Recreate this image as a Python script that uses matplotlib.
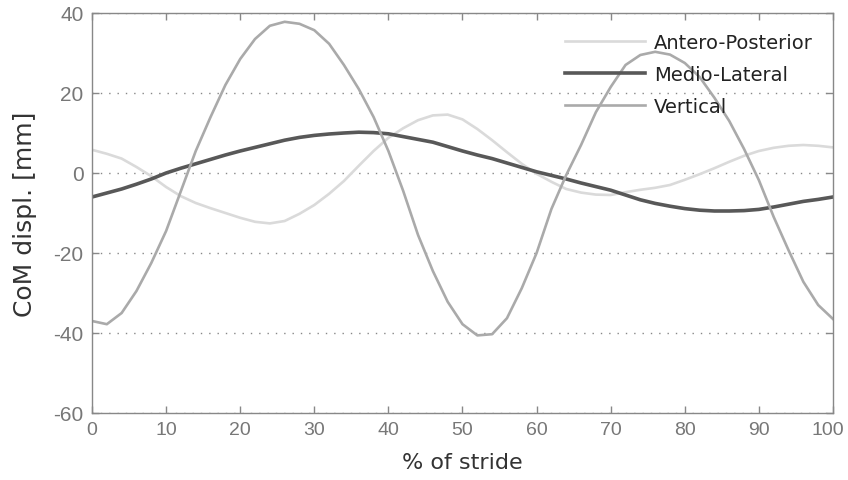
"""CoM displacement over one stride - three components."""

import matplotlib
matplotlib.use("Agg")
import matplotlib.pyplot as plt
from matplotlib.transforms import ScaledTranslation

plt.rcParams["axes.unicode_minus"] = False

# % of stride (sampled every 2 %)
stride = list(range(0, 101, 2))

antero_posterior = [
    5.8, 4.8, 3.6, 1.5, -0.8, -3.5, -5.8, -7.5, -8.8, -10.0,
    -11.2, -12.2, -12.6, -12.0, -10.2, -8.0, -5.2, -2.0, 1.8, 5.5,
    8.8, 11.2, 13.2, 14.4, 14.6, 13.4, 11.0, 8.2, 5.2, 2.3,
    -0.2, -2.2, -4.0, -4.9, -5.4, -5.5, -4.8, -4.2, -3.7, -3.0,
    -1.7, -0.3, 1.2, 2.8, 4.3, 5.5, 6.3, 6.8, 7.0, 6.8,
    6.4,
]

medio_lateral = [
    -6.0, -5.0, -4.0, -2.8, -1.5, 0.0, 1.2, 2.3, 3.4, 4.5,
    5.5, 6.4, 7.3, 8.2, 8.9, 9.4, 9.75, 10.0, 10.2, 10.1,
    9.8, 9.1, 8.4, 7.7, 6.6, 5.5, 4.5, 3.6, 2.5, 1.4,
    0.3, -0.6, -1.5, -2.5, -3.4, -4.3, -5.5, -6.7, -7.6, -8.3,
    -8.9, -9.3, -9.5, -9.5, -9.4, -9.1, -8.5, -7.8, -7.1, -6.6,
    -6.0,
]

vertical = [
    -37.0, -37.8, -35.0, -29.5, -22.5, -14.5, -4.5, 5.5, 14.0, 22.0,
    28.5, 33.5, 36.8, 37.8, 37.3, 35.7, 32.3, 27.0, 21.0, 14.0,
    5.5, -4.5, -15.5, -24.5, -32.2, -37.8, -40.6, -40.3, -36.3, -28.8,
    -20.0, -9.0, -0.5, 7.0, 15.2, 21.5, 27.0, 29.5, 30.3, 29.6,
    27.5, 24.0, 18.8, 13.0, 6.0, -1.8, -11.0, -19.3, -27.2, -33.0,
    -36.5,
]

x_ticks = list(range(0, 101, 10))
y_ticks = list(range(-60, 41, 20))

fig = plt.figure(figsize=(8.48, 4.81), dpi=100)
ax = fig.add_axes([0.1085, 0.1393, 0.8738, 0.8316])

ax.plot(stride, antero_posterior, color="#dadada", lw=1.9, label="Antero-Posterior")
ax.plot(stride, medio_lateral, color="#585858", lw=2.6, label="Medio-Lateral")
ax.plot(stride, vertical, color="#aaaaaa", lw=1.9, label="Vertical")

ax.set_xlim(0, 100)
ax.set_ylim(-60, 40)
ax.set_xticks(x_ticks)
ax.set_yticks(y_ticks)

# matlab-like dotted horizontal grid only
ax.yaxis.grid(True, color="#888888", linestyle=(0, (1, 5)), lw=1.0)
ax.xaxis.grid(False)

for s in ax.spines.values():
    s.set_color("#888888")
    s.set_linewidth(1.0)

ax.tick_params(direction="in", length=5, width=1, colors="#888888",
               top=True, right=True, labelsize=15, labelcolor="#777777", pad=6)
ax.tick_params(axis="x", labelsize=14)
for lbl in ax.get_xticklabels() + ax.get_yticklabels():
    lbl.set_family(["Liberation Sans", "DejaVu Sans"])

# keep the last x label inside the figure edge
last = ax.get_xticklabels()[-1]
last.set_transform(last.get_transform() + ScaledTranslation(-4 / 72, 0, fig.dpi_scale_trans))

ax.set_xlabel("% of stride", fontsize=16, color="#333333", labelpad=10)
ax.set_ylabel("CoM displ. [mm]", fontsize=18, color="#333333", labelpad=12)

leg = ax.legend(loc="upper right", frameon=False, fontsize=14,
                handlelength=4.1, handletextpad=0.5, labelspacing=0.67,
                borderaxespad=0.62)
for t in leg.get_texts():
    t.set_color("#222222")

fig.savefig("out.png", dpi=100)
